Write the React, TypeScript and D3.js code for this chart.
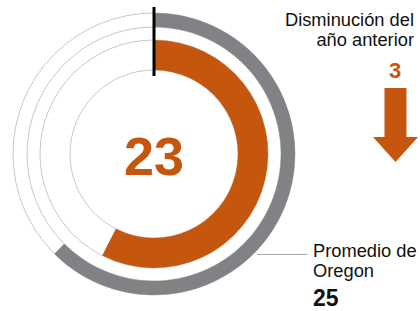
import React, { useEffect, useRef } from 'react';
import * as d3 from 'd3';

// values
const metricLabels = ['Distrito', 'Promedio de Oregon'];
const metricValues = [23, 25];
const changeLabel = ['Disminución del', 'año anterior'];
const changeValue = [3];
const averageLabel = ['Promedio de', 'Oregon'];
const scaleMax = [40];

const ORANGE = '#c5560e';
const GRAY = '#808285';
const FONT = '"Liberation Sans", Arial, sans-serif';

const App: React.FC = () => {
  const svgRef = useRef<SVGSVGElement>(null);
  const width = 420;
  const height = 311;

  useEffect(() => {
    if (!svgRef.current) return;
    const svg = d3.select(svgRef.current);
    svg.selectAll('*').remove();

    const cx = 154;
    const cy = 154;
    const g = svg.append('g').attr('transform', `translate(${cx},${cy})`);

    const angle = d3.scaleLinear().domain([0, scaleMax[0]]).range([0, 2 * Math.PI]);

    // ring radii: [inner, outer] for the district and the state average
    const rings = [
      { inner: 84, outer: 114, color: ORANGE },
      { inner: 127, outer: 141, color: GRAY },
    ];

    // thin guide circles
    const guides = [84, 114, 127, 141];
    g.selectAll('.guide')
      .data(guides)
      .enter()
      .append('circle')
      .attr('class', 'guide')
      .attr('r', d => d)
      .attr('fill', 'none')
      .attr('stroke', '#c8c8c8')
      .attr('stroke-width', 1);

    const arc = d3.arc<any>()
      .innerRadius(d => d.inner)
      .outerRadius(d => d.outer)
      .startAngle(0)
      .endAngle(d => angle(d.value));

    g.selectAll('.ring')
      .data(rings.map((r, i) => ({ ...r, value: metricValues[i], label: metricLabels[i] })))
      .enter()
      .append('path')
      .attr('class', 'ring')
      .attr('d', arc)
      .attr('fill', d => d.color);

    // zero marker
    g.append('line')
      .attr('x1', 0)
      .attr('x2', 0)
      .attr('y1', -147)
      .attr('y2', -78)
      .attr('stroke', '#000')
      .attr('stroke-width', 3);

    // center value
    g.append('text')
      .attr('x', 0)
      .attr('y', 21)
      .attr('text-anchor', 'middle')
      .style('font-family', FONT)
      .style('font-weight', 'bold')
      .style('font-size', '54px')
      .style('fill', ORANGE)
      .text(metricValues[0]);

    // leader line to the average label
    svg.append('line')
      .attr('x1', 257)
      .attr('x2', 307)
      .attr('y1', 254.5)
      .attr('y2', 254.5)
      .attr('stroke', '#a8a8a8')
      .attr('stroke-width', 1);

    const avg = svg.append('g').attr('transform', 'translate(313,0)');
    averageLabel.forEach((t, i) => {
      avg.append('text')
        .attr('x', 0)
        .attr('y', 257 + i * 20)
        .style('font-family', FONT)
        .style('font-size', '18.3px')
        .style('fill', '#111')
        .text(t);
    });
    avg.append('text')
      .attr('x', 0)
      .attr('y', 306)
      .style('font-family', FONT)
      .style('font-weight', 'bold')
      .style('font-size', '23px')
      .style('fill', '#111')
      .text(metricValues[1]);

    // change from previous year
    changeLabel.forEach((t, i) => {
      svg.append('text')
        .attr('x', 414)
        .attr('y', 26 + i * 20)
        .attr('text-anchor', 'end')
        .style('font-family', FONT)
        .style('font-size', '18.3px')
        .style('fill', '#111')
        .text(t);
    });
    svg.append('text')
      .attr('x', 395)
      .attr('y', 78)
      .attr('text-anchor', 'middle')
      .style('font-family', FONT)
      .style('font-weight', 'bold')
      .style('font-size', '22px')
      .style('fill', ORANGE)
      .text(changeValue[0]);

    // down arrow
    const ax = 395.5;
    const arrow = d3.path();
    arrow.moveTo(ax - 11, 88);
    arrow.lineTo(ax + 11, 88);
    arrow.lineTo(ax + 11, 137);
    arrow.lineTo(ax + 22.5, 137);
    arrow.lineTo(ax, 162);
    arrow.lineTo(ax - 22.5, 137);
    arrow.lineTo(ax - 11, 137);
    arrow.closePath();
    svg.append('path').attr('d', arrow.toString()).attr('fill', ORANGE);
  }, []);

  return (
    <svg
      ref={svgRef}
      width={width}
      height={height}
      style={{ position: 'absolute', left: 0, top: 0, display: 'block', background: '#fff' }}
    />
  );
};

export default App;
